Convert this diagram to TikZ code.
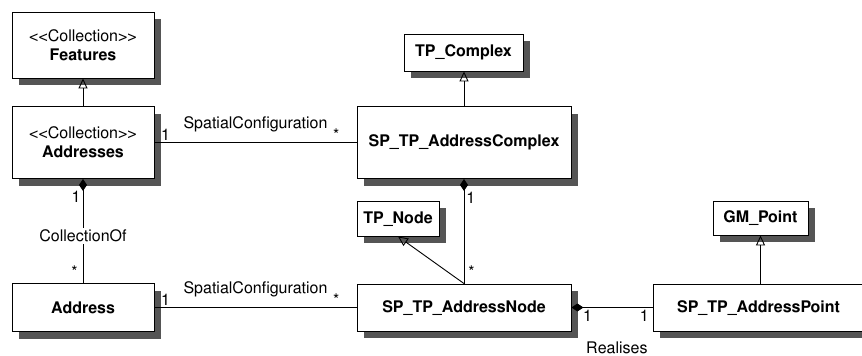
\documentclass[tikz,border=0pt]{standalone}
\usepackage[T1]{fontenc}
\usepackage{helvet}
\renewcommand{\familydefault}{\sfdefault}
\usepackage{xcolor}
\usepackage{tikz}
\usetikzlibrary{arrows.meta}
\usetikzlibrary{positioning}

\definecolor{shadowgray}{HTML}{555555}

\begin{document}
\begin{tikzpicture}[x=1pt,y=-1pt,
    font=\fontsize{16}{19}\selectfont,
    classbox/.style={draw, line width=0.9pt, fill=white, align=center, inner sep=0pt},
    classshadow/.style={fill=shadowgray, draw=none, inner sep=0pt},
    gen/.style={-{Triangle[open, length=10pt, width=9pt]}, line width=0.9pt},
    comp/.style={{Diamond[length=12pt, width=8pt]}-, line width=0.9pt},
    assoc/.style={line width=0.9pt},
    mult/.style={inner sep=1pt}]
    \useasboundingbox (0,0) rectangle (862,356);

    % Draw the shadows of the classes
    \node[classshadow, minimum width=142, minimum height=66] (features-sh) at (90,52) {};
    \node[classshadow, minimum width=142, minimum height=72] (addresses-sh) at (90,149.5) {};
    \node[classshadow, minimum width=142, minimum height=48] (address-sh) at (90,314.5) {};
    \node[classshadow, minimum width=119, minimum height=37] (tpcomplex-sh) at (470.5,59.5) {};
    \node[classshadow, minimum width=214, minimum height=72] (addrcomplex-sh) at (471,149.5) {};
    \node[classshadow, minimum width=82, minimum height=35] (tpnode-sh) at (405,225.5) {};
    \node[classshadow, minimum width=214, minimum height=47] (addrnode-sh) at (471,314.5) {};
    \node[classshadow, minimum width=95, minimum height=34] (gmpoint-sh) at (767.5,225) {};
    \node[classshadow, minimum width=211, minimum height=47] (addrpoint-sh) at (765.5,314.5) {};

    % Draw the classes
    \node[classbox, minimum width=142, minimum height=66] (features) at (83,45)
        {<\kern0pt<Collection>\kern0pt>\\\textbf{Features}};
    \node[classbox, minimum width=142, minimum height=72] (addresses) at (83,142.5)
        {<\kern0pt<Collection>\kern0pt>\\\textbf{Addresses}};
    \node[classbox, minimum width=142, minimum height=48] (address) at (83,307.5) {\textbf{Address}};
    \node[classbox, minimum width=119, minimum height=37] (tpcomplex) at (463.5,52.5) {\textbf{TP\_Complex}};
    \node[classbox, minimum width=214, minimum height=72] (addrcomplex) at (464,142.5) {\textbf{SP\_TP\_AddressComplex}};
    \node[classbox, minimum width=82, minimum height=35] (tpnode) at (398,218.5) {\textbf{TP\_Node}};
    \node[classbox, minimum width=214, minimum height=47] (addrnode) at (464,307.5) {\textbf{SP\_TP\_AddressNode}};
    \node[classbox, minimum width=95, minimum height=34] (gmpoint) at (760.5,218) {\textbf{GM\_Point}};
    \node[classbox, minimum width=211, minimum height=47] (addrpoint) at (758.5,307.5) {\textbf{SP\_TP\_AddressPoint}};

    % Draw the generalisations
    \draw[gen] (addresses.north) -- (features.south);
    \draw[gen] (addrcomplex.north) -- (addrcomplex.north |- tpcomplex.south);
    \draw[gen] (addrnode.north) -- (tpnode.south);
    \draw[gen] (gmpoint.south |- addrpoint.north) -- (gmpoint.south);

    % Draw the associations
    \draw[assoc] (addresses.east) -- (addrcomplex.west)
        node[mult, pos=0.055, above=1pt] (m1) {1}
        node[mult, pos=0.5, above=9pt] (sc1) {SpatialConfiguration}
        node[mult, pos=0.9, above=1pt] (m2) {*};
    \draw[assoc] (address.east) -- (addrnode.west)
        node[mult, pos=0.055, above=1pt] (m3) {1}
        node[mult, pos=0.5, above=9pt] (sc2) {SpatialConfiguration}
        node[mult, pos=0.9, above=1pt] (m4) {*};

    % Draw the compositions
    \draw[comp] (addresses.south) -- (address.north)
        node[mult, pos=0.17, left=1pt] (m5) {1}
        node[pos=0.545, fill=white, inner sep=2pt] (coll) {CollectionOf}
        node[mult, pos=0.89, left=4pt] (m6) {*};
    \draw[comp] (addrcomplex.south) -- (addrnode.north)
        node[mult, pos=0.18, right=1pt] (m7) {1}
        node[mult, pos=0.89, right=3pt] (m8) {*};
    \draw[comp] (addrnode.east) -- (addrpoint.west)
        node[mult, pos=0.2, below=1pt] (m9) {1}
        node[mult, pos=0.9, below=1pt] (m10) {1}
        node[mult, pos=0.56, below=33pt] (real) {Realises};
\end{tikzpicture}
\end{document}
